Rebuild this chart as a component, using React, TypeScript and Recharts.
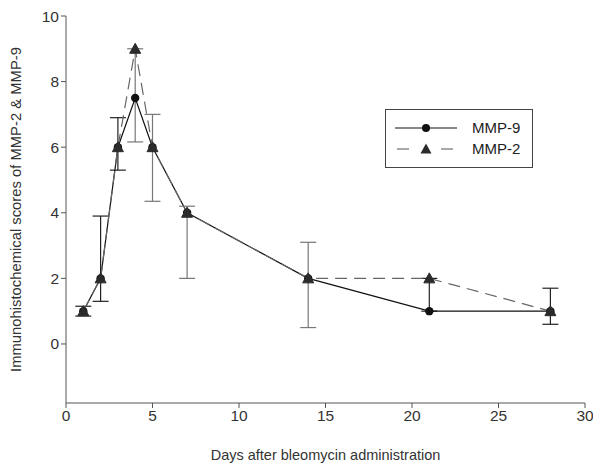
import React from 'react';
import { ComposedChart, Line, XAxis, YAxis, ErrorBar } from 'recharts';

const days = [1, 2, 3, 4, 5, 7, 14, 21, 28];
const mmp9 = [1, 2, 6, 7.5, 6, 4, 2, 1, 1];
const mmp2 = [1, 2, 6, 9, 6, 4, 2, 2, 1];
// asymmetric error bars [below, above]
const mmp9ErrLow = [0.15, 0.7, 0.7, null, null, null, null, 0, 0.4];
const mmp9ErrHigh = [0.15, 1.9, 0.9, null, null, null, null, 1, 0.7];
const mmp2ErrLow = [null, null, null, 2.84, 1.65, 2.0, 1.5, null, null];
const mmp2ErrHigh = [null, null, null, 0, 1.0, 0.2, 1.1, null, null];
const xTicks = [0, 5, 10, 15, 20, 25, 30];
const yTicks = [0, 2, 4, 6, 8, 10];

const data = days.map((d, i) => ({
    day: d,
    mmp9: mmp9[i],
    mmp2: mmp2[i],
    err9: mmp9ErrLow[i] === null ? null : [mmp9ErrLow[i], mmp9ErrHigh[i]],
    err2: mmp2ErrLow[i] === null ? null : [mmp2ErrLow[i], mmp2ErrHigh[i]],
}));

const tri = (cx: number, cy: number, s: number) =>
    `M${cx},${cy - s * 0.55} L${cx + s * 0.55},${cy + s * 0.45} L${cx - s * 0.55},${cy + s * 0.45} Z`;

const TriangleDot = (props: any) => {
    const { cx, cy, index } = props;
    if (cx == null || cy == null) return <g key={index} />;
    return <path key={index} d={tri(cx, cy, 10)} fill="#2b2b2b" stroke="#2b2b2b" />;
};

const CircleDot = (props: any) => {
    const { cx, cy, index } = props;
    if (cx == null || cy == null) return <g key={index} />;
    return <circle key={index} cx={cx} cy={cy} r={4.2} fill="#111" />;
};

const LegendBox = () => (
    <div style={{ position: 'absolute', left: 385, top: 109, border: '1px solid #444', background: '#fff', width: 148, height: 59, boxSizing: 'border-box', paddingTop: 7 }}>
        <div style={{ display: 'flex', alignItems: 'center', height: 21 }}>
            <svg width={86} height={14}>
                <line x1={9} x2={71} y1={7} y2={7} stroke="#111" strokeWidth={1.2} />
                <circle cx={40} cy={7} r={4} fill="#111" />
            </svg>
            <span style={{ fontSize: 15, color: '#222' }}>MMP-9</span>
        </div>
        <div style={{ display: 'flex', alignItems: 'center', height: 21 }}>
            <svg width={86} height={14}>
                <line x1={9} x2={71} y1={7} y2={7} stroke="#555" strokeWidth={1.2} strokeDasharray="12 10" strokeDashoffset={-2} />
                <rect x={29} y={1} width={22} height={12} fill="#fff" />
                <path d={tri(40, 7, 10)} fill="#2b2b2b" />
            </svg>
            <span style={{ fontSize: 15, color: '#222' }}>MMP-2</span>
        </div>
    </div>
);

const App: React.FC = () => {
    return (
        <div style={{ position: 'absolute', left: 0, top: 0, width: 593, height: 465, fontFamily: '"Liberation Sans", Arial, sans-serif', background: '#fff' }}>
            <ComposedChart width={593} height={465} data={data} margin={{ top: 16, right: 8, left: 0, bottom: 0 }}>
                <XAxis
                    dataKey="day"
                    type="number"
                    domain={[0, 30]}
                    ticks={xTicks}
                    height={62}
                    tick={{ fontSize: 15.5, fill: '#333' }}
                    stroke="#555"
                    tickSize={5}
                    label={{ value: 'Days after bleomycin administration', position: 'center', dy: 21, fontSize: 14.5, fill: '#333' }}
                />
                <YAxis
                    type="number"
                    domain={[-1.8, 10]}
                    ticks={yTicks}
                    width={66}
                    tick={{ fontSize: 15.5, fill: '#333' }}
                    stroke="#555"
                    tickSize={5}
                    label={{ value: 'Immunohistochemical scores of MMP-2 & MMP-9', angle: -90, position: 'center', dx: -17, fontSize: 14.8, fill: '#333' }}
                />
                <Line
                    dataKey="mmp9"
                    name="MMP-9"
                    stroke="#111"
                    strokeWidth={1.2}
                    dot={<CircleDot />}
                    activeDot={false}
                    isAnimationActive={false}
                >
                    <ErrorBar dataKey="err9" width={8} stroke="#222" strokeWidth={1.2} direction="y" isAnimationActive={false} />
                </Line>
                <Line
                    dataKey="mmp2"
                    name="MMP-2"
                    stroke="#666"
                    strokeWidth={1.2}
                    strokeDasharray="12 7"
                    dot={<TriangleDot />}
                    activeDot={false}
                    isAnimationActive={false}
                >
                    <ErrorBar dataKey="err2" width={8} stroke="#777" strokeWidth={1.2} direction="y" isAnimationActive={false} />
                </Line>
            </ComposedChart>
            <LegendBox />
        </div>
    );
};

export default App;
